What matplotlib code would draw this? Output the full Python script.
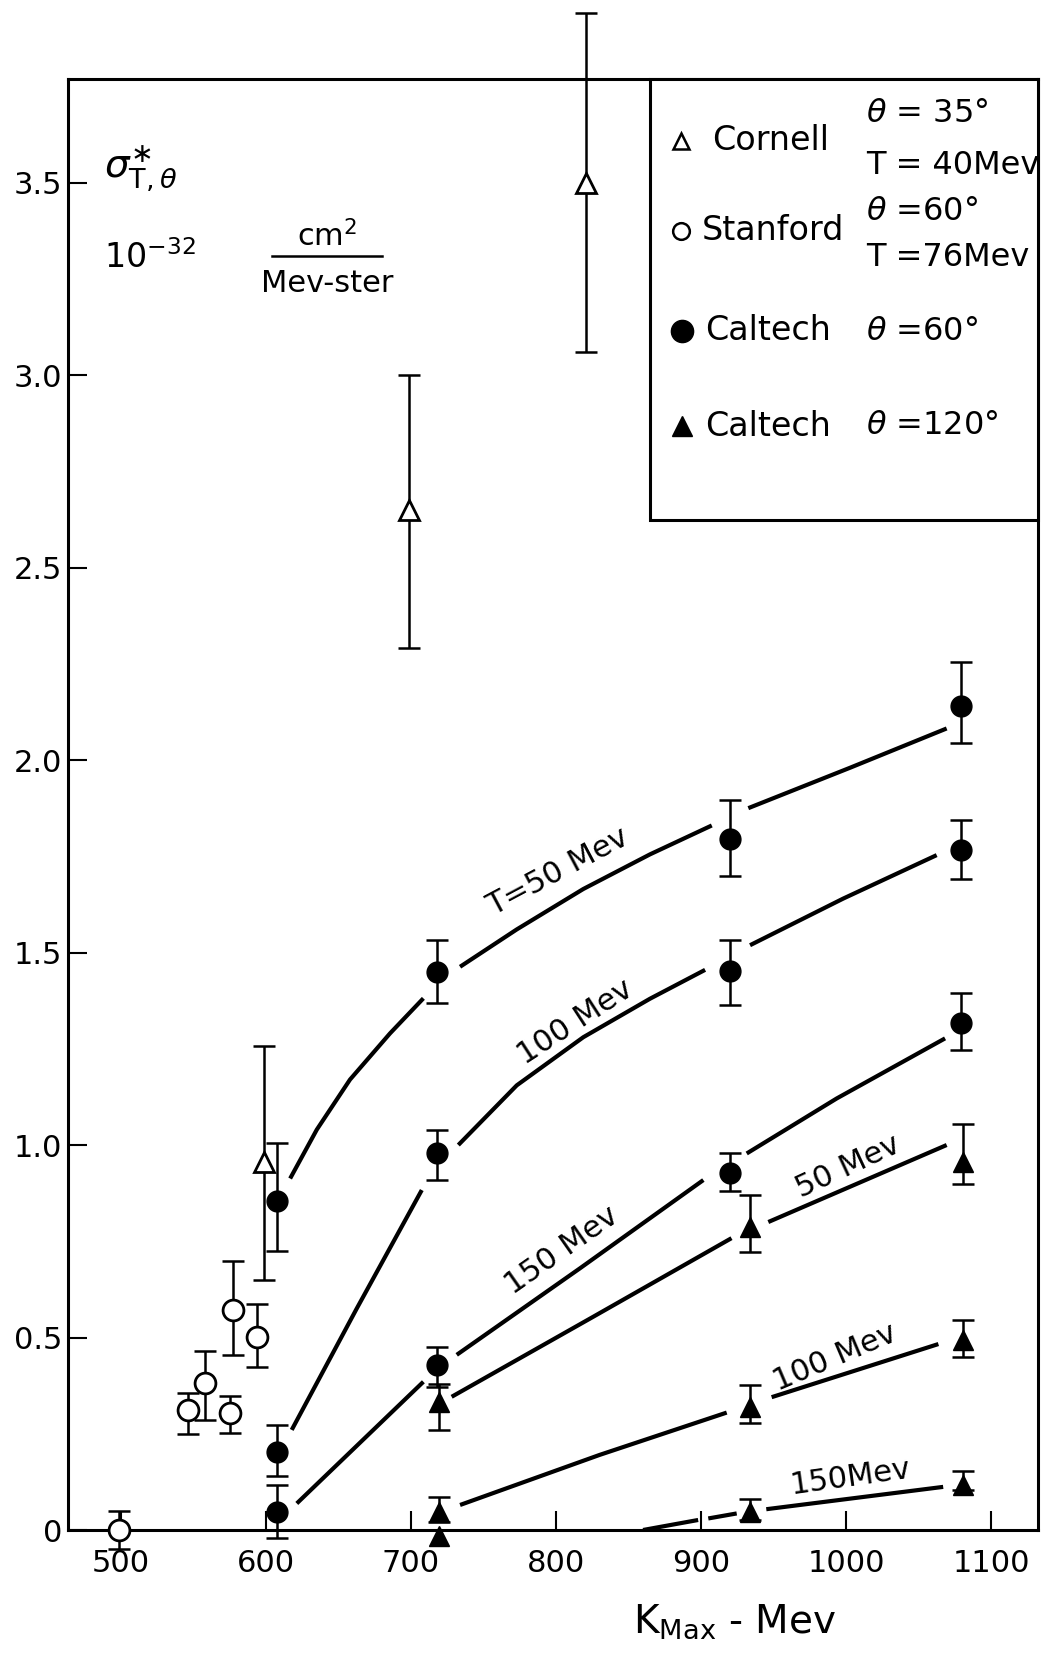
import numpy as np
from matplotlib import pyplot as plt
from matplotlib.patches import Rectangle
from matplotlib.lines import Line2D

# K_max (Mev) and sigma values

# Caltech, theta = 60 deg (filled circles)
caltech60_x = [607.8, 718.2, 920.0, 1079.3]
c60_t50 = [0.855, 1.450, 1.795, 2.140]
c60_t50_lo = [0.725, 1.369, 1.700, 2.045]
c60_t50_hi = [1.006, 1.532, 1.896, 2.255]
c60_t100 = [0.203, 0.979, 1.452, 1.766]
c60_t100_lo = [0.140, 0.909, 1.364, 1.690]
c60_t100_hi = [0.273, 1.040, 1.532, 1.844]
c60_t150 = [0.048, 0.428, 0.928, 1.317]
c60_t150_lo = [-0.021, 0.372, 0.881, 1.247]
c60_t150_hi = [0.117, 0.476, 0.980, 1.395]

# Caltech, theta = 120 deg (filled triangles)
caltech120_x = [719.6, 933.8, 1080.9]
c120_t50 = [0.333, 0.788, 0.957]
c120_t50_lo = [0.260, 0.723, 0.900]
c120_t50_hi = [0.380, 0.870, 1.055]
c120_t100 = [0.048, 0.320, 0.494]
c120_t100_lo = [0.020, 0.278, 0.450]
c120_t100_hi = [0.087, 0.377, 0.545]
c120_t150 = [-0.015, 0.048, 0.117]
c120_t150_lo = [-0.015, 0.026, 0.104]
c120_t150_hi = [-0.015, 0.080, 0.154]

# Cornell (open triangles)
cornell_x = [598.6, 698.6, 821.0]
cornell_y = [0.957, 2.65, 3.50]
cornell_lo = [0.65, 2.29, 3.06]
cornell_hi = [1.257, 3.00, 3.94]

# Stanford (open circles)
stanford_x = [498.6, 546.4, 557.9, 575.2, 577.4, 593.6]
stanford_y = [0.0, 0.312, 0.381, 0.304, 0.571, 0.502]
stanford_lo = [-0.05, 0.250, 0.286, 0.252, 0.455, 0.423]
stanford_hi = [0.05, 0.355, 0.465, 0.348, 0.700, 0.587]

# theory curves, traced in pieces (they break near the points)
curve60_t50 = [
    ([616.6, 635.0, 657.9, 685.5, 708.5], [0.913, 1.040, 1.170, 1.290, 1.381]),
    ([733.8, 772.9, 818.8, 864.8, 907.4], [1.463, 1.560, 1.665, 1.755, 1.830]),
    ([932.6, 1002.8, 1069.4], [1.875, 1.980, 2.082]),
]
curve60_t100 = [
    ([617.7, 662.5, 707.4], [0.260, 0.575, 0.883]),
    ([732.6, 772.9, 818.8, 864.8, 902.8], [1.000, 1.155, 1.280, 1.380, 1.455]),
    ([933.8, 998.0, 1062.5], [1.519, 1.640, 1.753]),
]
curve60_t150 = [
    ([621.2, 708.5], [0.069, 0.385]),
    ([731.5, 816.6, 901.6], [0.455, 0.680, 0.909]),
    ([931.5, 993.6, 1068.3], [0.978, 1.121, 1.277]),
]
curve120_t50 = [
    ([728.0, 825.7, 921.0], [0.346, 0.554, 0.758]),
    ([946.4, 1069.4], [0.800, 1.000]),
]
curve120_t100 = [
    ([733.8, 830.0, 917.7], [0.065, 0.195, 0.305]),
    ([948.7, 1063.7], [0.345, 0.483]),
]
curve120_t150 = [
    ([860.0, 898.0], [0.000, 0.026]),
    ([905.0, 924.6], [0.030, 0.043]),
    ([945.0, 1067.0], [0.054, 0.112]),
]

x_ticks = [500, 600, 700, 800, 900, 1000, 1100]
y_ticks = [0, 0.5, 1.0, 1.5, 2.0, 2.5, 3.0, 3.5]
y_ticklabels = ['0', '0.5', '1.0', '1.5', '2.0', '2.5', '3.0', '3.5']

W, H = 1049, 1653


def fx(x):
    return x / W


def fy(y):
    return 1 - y / H


fig = plt.figure(figsize=(W / 100, H / 100), dpi=100)
ax = fig.add_axes([fx(68), fy(1530), (1038 - 68) / W, (1530 - 79) / H])
ax.set_xlim(463.4, 1132.4)
ax.set_ylim(0, 3.769)

for s in ax.spines.values():
    s.set_linewidth(2.2)
ax.set_xticks(x_ticks)
ax.set_yticks(y_ticks)
ax.set_yticklabels(y_ticklabels)
ax.tick_params(direction='in', length=14, width=1.5, labelsize=22)
ax.tick_params(axis='x', pad=14)
ax.tick_params(axis='y', pad=4)


def errs(x, y, lo, hi):
    y = np.array(y)
    c = ax.errorbar(x, y, yerr=[y - np.array(lo), np.array(hi) - y], fmt='none',
                    ecolor='k', elinewidth=1.8, capsize=8, capthick=1.8, zorder=2)
    for a in c.get_children():
        a.set_clip_on(False)


def curves(segs):
    for xs, ys in segs:
        ax.plot(xs, ys, color='k', lw=3, solid_capstyle='butt',
                solid_joinstyle='round', zorder=1)


for segs in [curve60_t50, curve60_t100, curve60_t150,
             curve120_t50, curve120_t100, curve120_t150]:
    curves(segs)

errs(caltech60_x, c60_t50, c60_t50_lo, c60_t50_hi)
errs(caltech60_x, c60_t100, c60_t100_lo, c60_t100_hi)
errs(caltech60_x, c60_t150, c60_t150_lo, c60_t150_hi)
errs(caltech120_x, c120_t50, c120_t50_lo, c120_t50_hi)
errs(caltech120_x, c120_t100, c120_t100_lo, c120_t100_hi)
errs(caltech120_x[1:], c120_t150[1:], c120_t150_lo[1:], c120_t150_hi[1:])
errs(cornell_x, cornell_y, cornell_lo, cornell_hi)
errs(stanford_x, stanford_y, stanford_lo, stanford_hi)

for ys in [c60_t50, c60_t100, c60_t150]:
    ax.plot(caltech60_x, ys, 'o', color='k', ms=15, clip_on=False, zorder=3)
for ys in [c120_t50, c120_t100, c120_t150]:
    ax.plot(caltech120_x, ys, '^', color='k', ms=14, clip_on=False, zorder=3)
ax.plot(cornell_x, cornell_y, '^', mfc='white', mec='k', mew=2, ms=14, clip_on=False, zorder=3)
ax.plot(stanford_x, stanford_y, 'o', mfc='white', mec='k', mew=2, ms=15, clip_on=False, zorder=3)

# curve labels
lbl = dict(fontsize=22, ha='center', va='center', rotation_mode='anchor')
ax.text(801.5, 1.709, 'T=50 Mev', rotation=28, **lbl)
ax.text(813.0, 1.320, '100 Mev', rotation=33, **lbl)
ax.text(803.9, 0.727, '150 Mev', rotation=35, **lbl)
ax.text(1001.6, 0.944, '50 Mev', rotation=25, **lbl)
ax.text(992.4, 0.448, '100 Mev', rotation=23, **lbl)
ax.text(1002.8, 0.138, '150Mev', rotation=8, **lbl)

# y quantity, top left
fig.text(fx(104), fy(168), r'$\sigma^{\ast}_{\mathrm{T},\theta}$', fontsize=28, va='center')
fig.text(fx(104), fy(258), r'10$^{-32}$', fontsize=24, va='center')
fig.text(fx(327), fy(236), r'cm$^2$', fontsize=22, ha='center', va='center')
fig.add_artist(Line2D([fx(272), fx(382)], [fy(256), fy(256)], color='k', lw=1.8))
fig.text(fx(327), fy(284), 'Mev-ster', fontsize=22, ha='center', va='center')

# x label
fig.text(fx(735), fy(1622), r'K$_{\mathrm{Max}}$ - Mev', fontsize=28, ha='center', va='center')

# legend box
fig.add_artist(Rectangle((fx(650), fy(520)), (1038 - 650) / W, (520 - 79) / H,
                         transform=fig.transFigure, fill=True, facecolor='white',
                         edgecolor='k', lw=2.2, zorder=4))
leg = dict(transform=fig.transFigure, clip_on=False, zorder=5)
fig.add_artist(Line2D([fx(681)], [fy(141)], marker='^', mfc='white', mec='k', mew=1.8, ms=11, **leg))
fig.add_artist(Line2D([fx(681)], [fy(231)], marker='o', mfc='white', mec='k', mew=1.8, ms=12, **leg))
fig.add_artist(Line2D([fx(682)], [fy(331)], marker='o', color='k', ms=16, **leg))
fig.add_artist(Line2D([fx(682)], [fy(426)], marker='^', color='k', ms=14, **leg))

tx = dict(fontsize=24, va='center', zorder=6)
fig.text(fx(712), fy(141), 'Cornell', **tx)
fig.text(fx(702), fy(231), 'Stanford', **tx)
fig.text(fx(705), fy(331), 'Caltech', **tx)
fig.text(fx(705), fy(426), 'Caltech', **tx)
th = dict(fontsize=23, va='center', zorder=6)
fig.text(fx(866), fy(114), r'$\theta$ = 35°', **th)
fig.text(fx(866), fy(166), 'T = 40Mev', **th)
fig.text(fx(866), fy(211), r'$\theta$ =60°', **th)
fig.text(fx(866), fy(258), 'T =76Mev', **th)
fig.text(fx(866), fy(331), r'$\theta$ =60°', **th)
fig.text(fx(866), fy(426), r'$\theta$ =120°', **th)

plt.savefig('out.png', dpi=100)
